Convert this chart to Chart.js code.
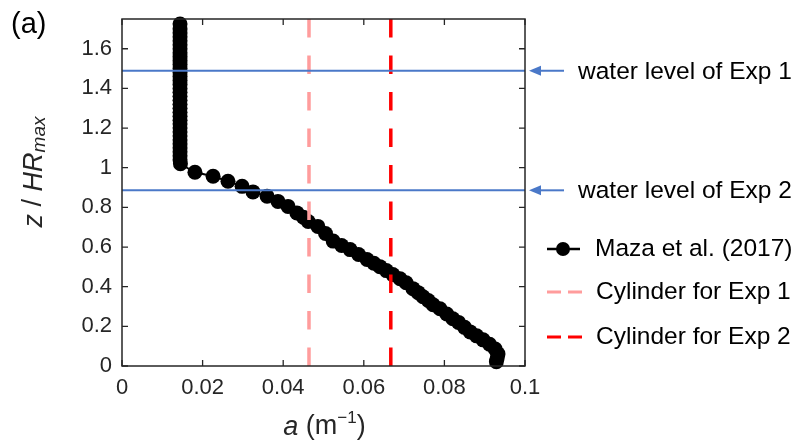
<!DOCTYPE html>
<html>
<head>
<meta charset="utf-8">
<script src="https://cdn.jsdelivr.net/npm/chart.js@4.4.1/dist/chart.umd.min.js"></script>
<style>
  html, body { margin: 0; padding: 0; background: #fff; }
  #wrap { width: 803px; height: 444px; position: relative; }
</style>
</head>
<body>
<div id="wrap"><canvas id="c" width="803" height="444"></canvas></div>
<script>
// ---- DATA ----
// Maza et al. (2017): frontal area per unit volume a (m^-1) vs z / HRmax
var mazaA = [0.0144,0.0144,0.0144,0.0144,0.0144,0.0144,0.0144,0.0144,0.0144,0.0144,
  0.0144,0.0144,0.0144,0.0144,0.0144,0.0144,0.0144,0.0144,0.0144,0.0144,
  0.0144,0.0144,0.0144,0.0144,0.0144,0.0144,0.0144,0.0144,0.0144,0.0144,
  0.0144,0.0144,0.0144,0.0144,0.0144,0.0145,
  0.0181,0.0226,0.0263,0.0298,0.0325,0.0360,0.0387,0.0412,0.0434,0.0450,
  0.0462,0.0486,0.0505,0.0524,0.0545,0.0566,0.0587,0.0608,0.0625,0.0640,
  0.0656,0.0672,0.0690,0.0705,0.0722,0.0735,0.0747,0.0760,0.0772,0.0789,
  0.0806,0.0821,0.0835,0.0850,0.0864,0.0880,0.0896,0.0912,0.0926,0.0933,
  0.0931,0.0929];
var mazaZ = [1.725,1.70,1.68,1.66,1.64,1.62,1.60,1.58,1.56,1.54,
  1.52,1.50,1.48,1.46,1.44,1.42,1.40,1.38,1.36,1.34,
  1.32,1.30,1.28,1.26,1.24,1.22,1.20,1.18,1.16,1.14,
  1.12,1.10,1.08,1.06,1.04,1.02,
  0.977,0.957,0.932,0.906,0.878,0.856,0.830,0.805,0.772,0.750,
  0.729,0.704,0.668,0.630,0.608,0.587,0.562,0.537,0.518,0.501,
  0.481,0.461,0.440,0.420,0.390,0.370,0.349,0.330,0.309,0.289,
  0.262,0.238,0.220,0.195,0.172,0.152,0.132,0.110,0.086,0.061,
  0.040,0.022];

var cylinderA = [0.0464, 0.0667];          // Exp 1, Exp 2
var waterLevel = [1.489, 0.886];           // Exp 1, Exp 2
var xTicks = [0, 0.02, 0.04, 0.06, 0.08, 0.1];
var yTicks = [0, 0.2, 0.4, 0.6, 0.8, 1, 1.2, 1.4, 1.6];
var xRange = [0, 0.1];
var yRange = [0, 1.75];
var legendLabels = ['Maza et al. (2017)', 'Cylinder for Exp 1', 'Cylinder for Exp 2'];
var levelLabels = ['water level of Exp 1', 'water level of Exp 2'];

// ---- STYLE ----
var FONT = '"Liberation Sans", Arial, Helvetica, sans-serif';
var AXIS = '#262626';
var BLUE = '#4a78c8';
var PINK = '#ff9c9c';
var RED = '#ff0000';

var mazaPts = mazaA.map(function(a, i) { return { x: a, y: mazaZ[i] }; });

function vline(x) { return [{ x: x, y: yRange[0] }, { x: x, y: yRange[1] }]; }
function hline(y) { return [{ x: xRange[0], y: y }, { x: xRange[1], y: y }]; }

// ---- PLUGIN: box, inward ticks, titles, legend, annotations ----
var decor = {
  id: 'decor',
  afterDraw: function(chart) {
    var ctx = chart.ctx, ca = chart.chartArea;
    var sx = chart.scales.x, sy = chart.scales.y;
    ctx.save();

    // box
    ctx.strokeStyle = AXIS;
    ctx.lineWidth = 1.5;
    ctx.strokeRect(ca.left, ca.top, ca.right - ca.left, ca.bottom - ca.top);

    // inward ticks on all four sides
    var tl = 6;
    ctx.lineWidth = 1.3;
    ctx.beginPath();
    xTicks.forEach(function(v) {
      var px = sx.getPixelForValue(v);
      ctx.moveTo(px, ca.bottom); ctx.lineTo(px, ca.bottom - tl);
      ctx.moveTo(px, ca.top); ctx.lineTo(px, ca.top + tl);
    });
    yTicks.forEach(function(v) {
      var py = sy.getPixelForValue(v);
      ctx.moveTo(ca.left, py); ctx.lineTo(ca.left + tl, py);
      ctx.moveTo(ca.right, py); ctx.lineTo(ca.right - tl, py);
    });
    ctx.stroke();

    // panel label
    ctx.fillStyle = '#000';
    ctx.font = '29px ' + FONT;
    ctx.textAlign = 'left';
    ctx.textBaseline = 'middle';
    ctx.fillText('(a)', 11, 25);

    // x title: a (m^-1)
    ctx.fillStyle = AXIS;
    var xt = [['a', 'italic 27px '], [' (m', '27px '], ['\u22121', '17px ', -9], [')', '27px ']];
    drawRich(ctx, xt, (ca.left + ca.right) / 2 + 1, 427);

    // y title: z / HRmax (rotated)
    ctx.save();
    ctx.translate(34, 172);
    ctx.rotate(-Math.PI / 2);
    var yt = [['z', 'italic 27px '], [' / ', '27px '], ['HR', 'italic 27px '], ['max', 'italic 19px ', 6]];
    drawRich(ctx, yt, 0, 0);
    ctx.restore();

    // water level arrows + labels
    ctx.strokeStyle = BLUE;
    ctx.fillStyle = BLUE;
    ctx.lineWidth = 2;
    waterLevel.forEach(function(z, i) {
      var py = sy.getPixelForValue(z);
      ctx.beginPath();
      ctx.moveTo(538, py); ctx.lineTo(564, py);
      ctx.stroke();
      ctx.beginPath();
      ctx.moveTo(529, py); ctx.lineTo(541, py - 5); ctx.lineTo(541, py + 5); ctx.closePath();
      ctx.fill();
      ctx.fillStyle = '#000';
      ctx.font = '24.5px ' + FONT;
      ctx.textAlign = 'left';
      ctx.textBaseline = 'middle';
      ctx.fillText(levelLabels[i], 578, py + 1);
      ctx.fillStyle = BLUE;
    });

    // legend
    var rows = [249, 292, 337];
    ctx.font = '24.5px ' + FONT;
    ctx.textAlign = 'left';
    ctx.textBaseline = 'middle';
    // Maza
    ctx.strokeStyle = '#000';
    ctx.lineWidth = 2.5;
    ctx.setLineDash([]);
    ctx.beginPath(); ctx.moveTo(547, rows[0]); ctx.lineTo(580, rows[0]); ctx.stroke();
    ctx.fillStyle = '#000';
    ctx.beginPath(); ctx.arc(563, rows[0], 7, 0, Math.PI * 2); ctx.fill();
    ctx.fillText(legendLabels[0], 595, rows[0]);
    // cylinders
    [PINK, RED].forEach(function(col, i) {
      ctx.strokeStyle = col;
      ctx.lineWidth = 3;
      ctx.setLineDash([14, 7]);
      ctx.beginPath(); ctx.moveTo(547, rows[i + 1]); ctx.lineTo(582, rows[i + 1]); ctx.stroke();
      ctx.setLineDash([]);
      ctx.fillStyle = '#000';
      ctx.fillText(legendLabels[i + 1], 596, rows[i + 1]);
    });

    ctx.restore();
  }
};

// draws pieces of mixed-style text centred on (cx, cy); piece = [text, fontPrefix, baselineShift]
function drawRich(ctx, parts, cx, cy) {
  var total = 0;
  parts.forEach(function(p) { ctx.font = p[1] + FONT; total += ctx.measureText(p[0]).width; });
  var x = cx - total / 2;
  ctx.textAlign = 'left';
  ctx.textBaseline = 'middle';
  parts.forEach(function(p) {
    ctx.font = p[1] + FONT;
    ctx.fillText(p[0], x, cy + (p[2] || 0));
    x += ctx.measureText(p[0]).width;
  });
}

// ---- CHART ----
new Chart(document.getElementById('c'), {
  type: 'line',
  data: {
    datasets: [
      { label: levelLabels[0], data: hline(waterLevel[0]), borderColor: BLUE, borderWidth: 2,
        pointRadius: 0, order: 1 },
      { label: levelLabels[1], data: hline(waterLevel[1]), borderColor: BLUE, borderWidth: 2,
        pointRadius: 0, order: 1 },
      { label: legendLabels[1], data: vline(cylinderA[0]), borderColor: PINK, borderWidth: 3.5,
        borderDash: [18.5, 18], pointRadius: 0, order: 2 },
      { label: legendLabels[2], data: vline(cylinderA[1]), borderColor: RED, borderWidth: 3.5,
        borderDash: [18.5, 18], pointRadius: 0, order: 2 },
      { label: legendLabels[0], data: mazaPts, borderColor: '#000', backgroundColor: '#000',
        borderWidth: 2, pointRadius: 7.5, pointBorderWidth: 0, clip: false, order: 3 }
    ]
  },
  options: {
    responsive: false,
    animation: false,
    devicePixelRatio: 1,
    layout: { padding: { left: 0, top: 19, right: 278, bottom: 0 } },
    plugins: { legend: { display: false }, tooltip: { enabled: false } },
    elements: { line: { tension: 0 } },
    scales: {
      x: {
        type: 'linear', min: xRange[0], max: xRange[1],
        grid: { display: false, drawTicks: false },
        border: { display: false },
        ticks: {
          stepSize: 0.02, padding: 9, color: AXIS,
          font: { family: FONT, size: 22 },
          callback: function(v) { return String(+v.toFixed(2)); }
        },
        afterFit: function(s) { s.height = 78; s.paddingLeft = 0; s.paddingRight = 0; }
      },
      y: {
        type: 'linear', min: yRange[0], max: yRange[1],
        grid: { display: false, drawTicks: false },
        border: { display: false },
        ticks: {
          stepSize: 0.2, includeBounds: false, padding: 10, color: AXIS,
          font: { family: FONT, size: 22 },
          callback: function(v) { return String(+v.toFixed(1)); }
        },
        afterFit: function(s) { s.width = 122; s.paddingTop = 0; s.paddingBottom = 0; }
      }
    }
  },
  plugins: [decor]
});
</script>
</body>
</html>
